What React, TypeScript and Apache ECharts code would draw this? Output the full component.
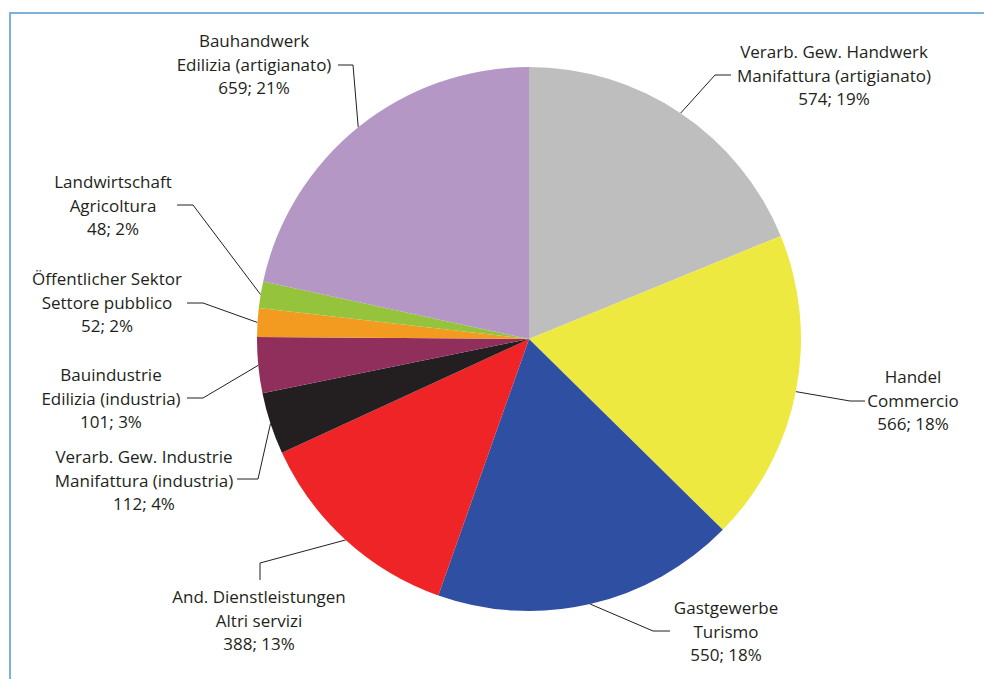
import React, { useEffect, useRef } from "react";
import * as echarts from "echarts";

const namesDe = [
  "Verarb. Gew. Handwerk",
  "Handel",
  "Gastgewerbe",
  "And. Dienstleistungen",
  "Verarb. Gew. Industrie",
  "Bauindustrie",
  "Öffentlicher Sektor",
  "Landwirtschaft",
  "Bauhandwerk",
];
const namesIt = [
  "Manifattura (artigianato)",
  "Commercio",
  "Turismo",
  "Altri servizi",
  "Manifattura (industria)",
  "Edilizia (industria)",
  "Settore pubblico",
  "Agricoltura",
  "Edilizia (artigianato)",
];
const values = [574, 566, 550, 388, 112, 101, 52, 48, 659];
const percents = [19, 18, 18, 13, 4, 3, 2, 2, 21];

const colors = [
  "#bebebe",
  "#eee941",
  "#2f4fa2",
  "#ee2426",
  "#231f20",
  "#912f5c",
  "#f39a20",
  "#95c43c",
  "#b597c6",
];

// label layout (centre of label, elbow and end of leader line)
const labelCenters = [
  [834, 75],
  [913, 400],
  [726, 631],
  [259, 620],
  [144, 480],
  [111, 398],
  [107, 302],
  [113, 205],
  [254, 64],
];
const lineElbows = [
  [[715, 75], [731, 75]],
  [[850, 401], [865, 401]],
  [[653, 631], [670, 631]],
  [[260, 563], [260, 580]],
  [[258, 479], [237, 479]],
  [[203, 398], [187, 398]],
  [[203, 303], [187, 303]],
  [[193, 205], [177, 205]],
  [[353, 65], [338, 65]],
];

export default function App() {
  const ref = useRef<HTMLDivElement>(null);
  useEffect(() => {
    if (!ref.current) return;
    const chart = echarts.init(ref.current, null, { renderer: "svg" });
    const data = values.map((v, i) => ({
      value: v,
      name: namesDe[i],
      itemStyle: { color: colors[i] },
    }));
    chart.setOption({
      animation: false,
      backgroundColor: "#ffffff",
      graphic: [
        {
          type: "rect",
          shape: { x: 10, y: 13, width: 990, height: 700 },
          style: { fill: "none", stroke: "#7ab2dc", lineWidth: 2 },
          silent: true,
        },
      ],
      series: [
        {
          type: "pie",
          center: [529, 339],
          radius: 272,
          startAngle: 90,
          clockwise: true,
          data,
          itemStyle: { borderWidth: 0 },
          label: {
            show: true,
            position: "outside",
            fontFamily: "Open Sans",
            fontSize: 17,
            lineHeight: 23.5,
            color: "#231f20",
            align: "center",
            formatter: (p: any) =>
              `${namesDe[p.dataIndex]}\n${namesIt[p.dataIndex]}\n${values[p.dataIndex]}; ${percents[p.dataIndex]}%`,
          },
          labelLine: {
            show: true,
            length: 20,
            length2: 20,
            lineStyle: { color: "#231f20", width: 1 },
          },
          labelLayout: (params: any) => {
            const i = params.dataIndex;
            const start =
              params.labelLinePoints && params.labelLinePoints[0]
                ? params.labelLinePoints[0]
                : lineElbows[i][0];
            return {
              x: labelCenters[i][0],
              y: labelCenters[i][1],
              align: "center",
              verticalAlign: "middle",
              hideOverlap: false,
              labelLinePoints: [start, lineElbows[i][0], lineElbows[i][1]],
            };
          },
        },
      ],
    });
    return () => chart.dispose();
  }, []);
  return (
    <div
      ref={ref}
      style={{ position: "fixed", left: 0, top: 0, width: 984, height: 679 }}
    />
  );
}
